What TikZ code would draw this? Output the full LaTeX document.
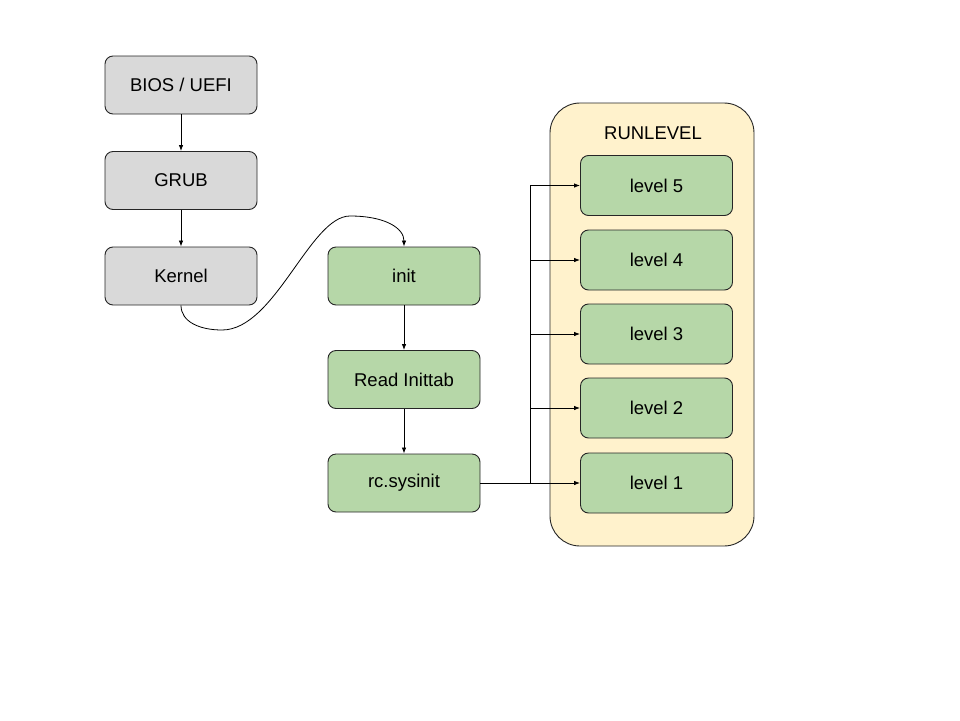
\documentclass[tikz,border=0pt]{standalone}
\usepackage{fontspec}
\setmainfont{Liberation Sans}
\usetikzlibrary{arrows.meta}
\definecolor{greyfill}{HTML}{D9D9D9}
\definecolor{greenfill}{HTML}{B6D7A8}
\definecolor{yellowfill}{HTML}{FFF2CC}
\begin{document}
\begin{tikzpicture}[x=1pt,y=-1pt,
  box/.style={draw=black!85, line width=0.9pt, rounded corners=8pt, minimum width=152pt, minimum height=58pt, font=\fontsize{18.5}{21}\selectfont, inner sep=0pt},
  greybox/.style={box, fill=greyfill},
  greenbox/.style={box, fill=greenfill},
  conn/.style={line width=0.8pt, -{Latex[length=6pt,width=4.5pt]}}]
\useasboundingbox (0,0) rectangle (960,720);
\node[draw=black!85, line width=0.9pt, fill=yellowfill, rounded corners=30pt, minimum width=204pt, minimum height=443pt] (container) at (652,324.5) {};
\node[font=\fontsize{18.5}{21}\selectfont] (runlevel) at (653,133) {RUNLEVEL};
\node[greybox] (bios) at (181,85) {BIOS / UEFI};
\node[greybox] (grub) at (181,180.5) {GRUB};
\node[greybox] (kernel) at (181,276) {Kernel};
\node[greenbox] (init) at (404,276) {init};
\node[greenbox] (inittab) at (404,379.5) {Read Inittab};
\node[greenbox] (rc) at (404,483) {rc.sysinit};
\node[greenbox, minimum height=60pt] (l5) at (656.5,185.5) {level 5};
\node[greenbox, minimum height=60pt] (l4) at (656.5,260) {level 4};
\node[greenbox, minimum height=60pt] (l3) at (656.5,334) {level 3};
\node[greenbox, minimum height=60pt] (l2) at (656.5,408) {level 2};
\node[greenbox, minimum height=60pt] (l1) at (656.5,483) {level 1};
\draw[conn] (bios) -- (grub);
\draw[conn] (grub) -- (kernel);
\draw[conn] (kernel.south) .. controls (181,322) and (200,330) .. (222,330)
  .. controls (275,330) and (310,216) .. (350,216)
  .. controls (385,216) and (404,228) .. (init.north);
\draw[conn] (init) -- (inittab);
\draw[conn] (inittab) -- (rc);
\coordinate (bus) at (530,483);
\draw[conn] (rc.east) -- (l1.west);
\draw[conn] (bus) |- (l2.west);
\draw[conn] (bus) |- (l3.west);
\draw[conn] (bus) |- (l4.west);
\draw[conn] (bus) |- (l5.west);
\end{tikzpicture}
\end{document}
